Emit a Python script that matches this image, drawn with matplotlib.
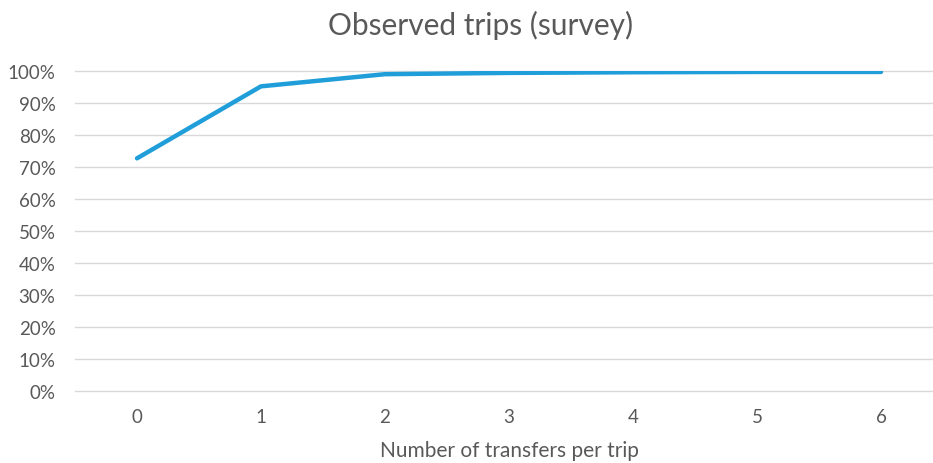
import matplotlib
matplotlib.use("Agg")
import matplotlib.pyplot as plt
from matplotlib.ticker import PercentFormatter

# Cumulative share of observed trips by number of transfers
transfers = [0, 1, 2, 3, 4, 5, 6]
cum_share = [72.8, 95.3, 99.1, 99.5, 99.7, 99.8, 99.8]
y_ticks = [0, 10, 20, 30, 40, 50, 60, 70, 80, 90, 100]

TEXT = "#595959"
GRID = "#d9d9d9"
LINE = "#1f9ed9"

plt.rcParams.update({
    "font.family": ["Lato", "DejaVu Sans"],
    "font.size": 13.5,
})

W, H = 933, 464
fig = plt.figure(figsize=(W / 100, H / 100), dpi=100)
# plot area runs a little past the right edge of the canvas
ax = fig.add_axes([75 / W, (H - 392.3) / H, 868 / W, 320 / H])

ax.plot(transfers, cum_share, color=LINE, linewidth=3.2,
        solid_capstyle="round", solid_joinstyle="round", zorder=3)

ax.set_xlim(-0.5, 6.5)
ax.set_ylim(0, 100)
ax.set_yticks(y_ticks)
ax.yaxis.set_major_formatter(PercentFormatter(decimals=0))
ax.set_xticks(transfers)

ax.grid(axis="y", color=GRID, linewidth=1.0)
for g in ax.get_ygridlines():
    g.set_clip_on(False)
ax.set_axisbelow(True)
for s in ax.spines.values():
    s.set_visible(False)
ax.tick_params(axis="both", length=0, colors=TEXT, labelsize=13.5)
ax.tick_params(axis="y", pad=14)
ax.tick_params(axis="x", pad=12)

ax.set_xlabel("Number of transfers per trip", color=TEXT, fontsize=15, labelpad=11)
fig.text(481 / W, 1 - 25 / H, "Observed trips (survey)", color=TEXT,
         fontsize=21.5, ha="center", va="center")

fig.savefig("out.png", dpi=100)
